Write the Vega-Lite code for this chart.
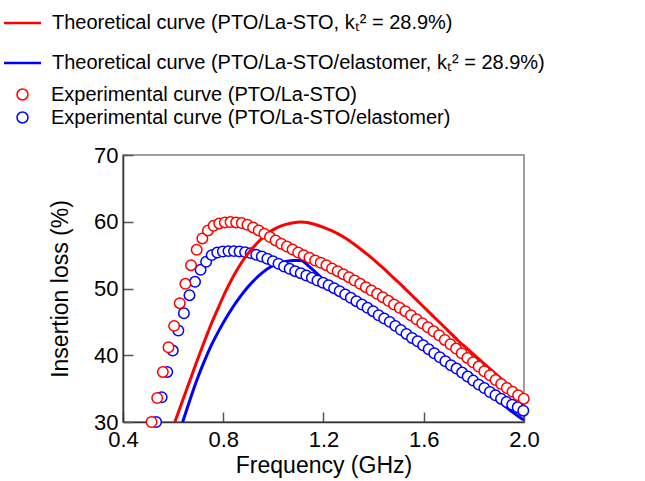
{
 "$schema": "https://vega.github.io/schema/vega-lite/v6.json",
 "width": 401,
 "height": 267,
 "autosize": {"type": "none"},
 "padding": {"left": 123, "top": 155, "right": 121, "bottom": 59},
 "background": "white",
 "config": {
  "font": "Liberation Sans",
  "view": {"stroke": "#808080", "strokeWidth": 1.5},
  "axis": {"grid": false, "domainColor": "#333333", "domainWidth": 1.5, "tickColor": "#555555", "tickWidth": 1.5, "labelColor": "#000000", "titleColor": "#000000", "labelFont": "Liberation Sans", "titleFont": "Liberation Sans", "titleFontWeight": "normal", "labelFontSize": 22, "titleFontSize": 23},
  "legend": {"labelFont": "Liberation Sans", "labelFontSize": 20, "labelColor": "#000000", "padding": 0, "labelLimit": 0}
 },
 "data": {"values": [
    {"s":"a","f":0.607,"loss":30.0},{"s":"a","f":0.63,"loss":32.4},{"s":"a","f":0.66,"loss":35.5},{"s":"a","f":0.69,"loss":38.6},{"s":"a","f":0.72,"loss":41.6},{"s":"a","f":0.75,"loss":44.5},{"s":"a","f":0.78,"loss":47.1},{"s":"a","f":0.81,"loss":49.6},{"s":"a","f":0.84,"loss":51.8},{"s":"a","f":0.87,"loss":53.7},{"s":"a","f":0.90,"loss":55.3},{"s":"a","f":0.93,"loss":56.6},{"s":"a","f":0.96,"loss":57.7},{"s":"a","f":0.99,"loss":58.6},{"s":"a","f":1.02,"loss":59.2},{"s":"a","f":1.05,"loss":59.6},{"s":"a","f":1.08,"loss":59.85},{"s":"a","f":1.11,"loss":59.95},{"s":"a","f":1.14,"loss":59.85},{"s":"a","f":1.17,"loss":59.55},{"s":"a","f":1.20,"loss":59.15},{"s":"a","f":1.23,"loss":58.7},{"s":"a","f":1.26,"loss":58.15},{"s":"a","f":1.29,"loss":57.5},{"s":"a","f":1.32,"loss":56.7},{"s":"a","f":1.35,"loss":55.85},{"s":"a","f":1.38,"loss":54.95},{"s":"a","f":1.41,"loss":54.0},{"s":"a","f":1.44,"loss":53.0},{"s":"a","f":1.47,"loss":51.95},{"s":"a","f":1.50,"loss":50.9},{"s":"a","f":1.53,"loss":49.8},{"s":"a","f":1.56,"loss":48.7},{"s":"a","f":1.59,"loss":47.6},{"s":"a","f":1.62,"loss":46.5},{"s":"a","f":1.65,"loss":45.4},{"s":"a","f":1.68,"loss":44.3},{"s":"a","f":1.71,"loss":43.2},{"s":"a","f":1.74,"loss":42.1},{"s":"a","f":1.77,"loss":41.1},{"s":"a","f":1.80,"loss":40.1},{"s":"a","f":1.83,"loss":39.1},{"s":"a","f":1.86,"loss":38.1},{"s":"a","f":1.89,"loss":37.1},{"s":"a","f":1.92,"loss":36.1},{"s":"a","f":1.95,"loss":35.1},{"s":"a","f":1.98,"loss":34.1},{"s":"a","f":2.00,"loss":33.4},
    {"s":"b","f":0.638,"loss":30.0},{"s":"b","f":0.66,"loss":32.5},{"s":"b","f":0.69,"loss":35.8},{"s":"b","f":0.72,"loss":38.7},{"s":"b","f":0.75,"loss":41.3},{"s":"b","f":0.78,"loss":43.5},{"s":"b","f":0.81,"loss":45.5},{"s":"b","f":0.84,"loss":47.3},{"s":"b","f":0.87,"loss":48.9},{"s":"b","f":0.90,"loss":50.3},{"s":"b","f":0.93,"loss":51.5},{"s":"b","f":0.96,"loss":52.5},{"s":"b","f":0.99,"loss":53.25},{"s":"b","f":1.02,"loss":53.75},{"s":"b","f":1.05,"loss":54.05},{"s":"b","f":1.08,"loss":54.2},{"s":"b","f":1.11,"loss":54.2},{"s":"b","f":1.14,"loss":53.4},{"s":"b","f":1.17,"loss":52.4},{"s":"b","f":1.20,"loss":51.3},{"s":"b","f":1.23,"loss":50.5},{"s":"b","f":1.26,"loss":49.9},{"s":"b","f":1.29,"loss":49.3},{"s":"b","f":1.32,"loss":48.6},{"s":"b","f":1.35,"loss":47.9},{"s":"b","f":1.38,"loss":47.2},{"s":"b","f":1.41,"loss":46.5},{"s":"b","f":1.44,"loss":45.7},{"s":"b","f":1.47,"loss":44.9},{"s":"b","f":1.50,"loss":44.1},{"s":"b","f":1.53,"loss":43.3},{"s":"b","f":1.56,"loss":42.5},{"s":"b","f":1.59,"loss":41.7},{"s":"b","f":1.62,"loss":40.9},{"s":"b","f":1.65,"loss":40.1},{"s":"b","f":1.68,"loss":39.3},{"s":"b","f":1.71,"loss":38.5},{"s":"b","f":1.74,"loss":37.6},{"s":"b","f":1.77,"loss":36.8},{"s":"b","f":1.80,"loss":36.0},{"s":"b","f":1.83,"loss":35.1},{"s":"b","f":1.86,"loss":34.3},{"s":"b","f":1.89,"loss":33.4},{"s":"b","f":1.92,"loss":32.5},{"s":"b","f":1.95,"loss":31.6},{"s":"b","f":1.98,"loss":30.8},{"s":"b","f":2.00,"loss":30.3},
    {"s":"c","f":0.514,"loss":30.0},{"s":"c","f":0.5365,"loss":33.6},{"s":"c","f":0.559,"loss":37.5},{"s":"c","f":0.5815,"loss":41.2},{"s":"c","f":0.604,"loss":44.4},{"s":"c","f":0.6265,"loss":47.8},{"s":"c","f":0.649,"loss":50.7},{"s":"c","f":0.6715,"loss":53.5},{"s":"c","f":0.694,"loss":55.8},{"s":"c","f":0.7165,"loss":57.5},{"s":"c","f":0.739,"loss":58.7},{"s":"c","f":0.7615,"loss":59.4},{"s":"c","f":0.784,"loss":59.75},{"s":"c","f":0.8065,"loss":59.9},{"s":"c","f":0.829,"loss":59.95},{"s":"c","f":0.8515,"loss":59.9},{"s":"c","f":0.874,"loss":59.8},{"s":"c","f":0.8965,"loss":59.55},{"s":"c","f":0.919,"loss":59.15},{"s":"c","f":0.9415,"loss":58.7},{"s":"c","f":0.964,"loss":58.2},{"s":"c","f":0.9865,"loss":57.7},{"s":"c","f":1.009,"loss":57.2},{"s":"c","f":1.0315,"loss":56.7},{"s":"c","f":1.054,"loss":56.3},{"s":"c","f":1.0765,"loss":55.85},{"s":"c","f":1.099,"loss":55.4},{"s":"c","f":1.1215,"loss":55.0},{"s":"c","f":1.144,"loss":54.6},{"s":"c","f":1.1665,"loss":54.2},{"s":"c","f":1.189,"loss":53.85},{"s":"c","f":1.2115,"loss":53.5},{"s":"c","f":1.234,"loss":53.0},{"s":"c","f":1.2565,"loss":52.6},{"s":"c","f":1.279,"loss":52.15},{"s":"c","f":1.3015,"loss":51.7},{"s":"c","f":1.324,"loss":51.2},{"s":"c","f":1.3465,"loss":50.7},{"s":"c","f":1.369,"loss":50.2},{"s":"c","f":1.3915,"loss":49.7},{"s":"c","f":1.414,"loss":49.2},{"s":"c","f":1.4365,"loss":48.7},{"s":"c","f":1.459,"loss":48.15},{"s":"c","f":1.4815,"loss":47.6},{"s":"c","f":1.504,"loss":47.1},{"s":"c","f":1.5265,"loss":46.6},{"s":"c","f":1.549,"loss":46.0},{"s":"c","f":1.5715,"loss":45.4},{"s":"c","f":1.594,"loss":44.8},{"s":"c","f":1.6165,"loss":44.2},{"s":"c","f":1.639,"loss":43.6},{"s":"c","f":1.6615,"loss":43.0},{"s":"c","f":1.684,"loss":42.3},{"s":"c","f":1.7065,"loss":41.65},{"s":"c","f":1.729,"loss":41.0},{"s":"c","f":1.7515,"loss":40.3},{"s":"c","f":1.774,"loss":39.6},{"s":"c","f":1.7965,"loss":38.95},{"s":"c","f":1.819,"loss":38.3},{"s":"c","f":1.8415,"loss":37.6},{"s":"c","f":1.864,"loss":37.0},{"s":"c","f":1.8865,"loss":36.3},{"s":"c","f":1.909,"loss":35.7},{"s":"c","f":1.9315,"loss":35.1},{"s":"c","f":1.954,"loss":34.55},{"s":"c","f":1.9765,"loss":34.0},{"s":"c","f":1.999,"loss":33.5},
    {"s":"d","f":0.532,"loss":30.0},{"s":"d","f":0.5542,"loss":33.7},{"s":"d","f":0.5764,"loss":37.5},{"s":"d","f":0.5986,"loss":40.7},{"s":"d","f":0.6208,"loss":43.7},{"s":"d","f":0.643,"loss":46.3},{"s":"d","f":0.6652,"loss":49.0},{"s":"d","f":0.6874,"loss":51.0},{"s":"d","f":0.7096,"loss":52.8},{"s":"d","f":0.7318,"loss":54.0},{"s":"d","f":0.754,"loss":55.0},{"s":"d","f":0.7762,"loss":55.4},{"s":"d","f":0.7984,"loss":55.55},{"s":"d","f":0.8206,"loss":55.6},{"s":"d","f":0.8428,"loss":55.6},{"s":"d","f":0.865,"loss":55.55},{"s":"d","f":0.8872,"loss":55.45},{"s":"d","f":0.9094,"loss":55.3},{"s":"d","f":0.9316,"loss":55.05},{"s":"d","f":0.9538,"loss":54.8},{"s":"d","f":0.976,"loss":54.45},{"s":"d","f":0.9982,"loss":54.1},{"s":"d","f":1.0204,"loss":53.7},{"s":"d","f":1.0426,"loss":53.3},{"s":"d","f":1.0648,"loss":52.95},{"s":"d","f":1.087,"loss":52.6},{"s":"d","f":1.1092,"loss":52.3},{"s":"d","f":1.1314,"loss":51.95},{"s":"d","f":1.1536,"loss":51.6},{"s":"d","f":1.1758,"loss":51.2},{"s":"d","f":1.198,"loss":50.85},{"s":"d","f":1.2202,"loss":50.5},{"s":"d","f":1.2424,"loss":50.05},{"s":"d","f":1.2646,"loss":49.6},{"s":"d","f":1.2868,"loss":49.1},{"s":"d","f":1.309,"loss":48.6},{"s":"d","f":1.3312,"loss":48.1},{"s":"d","f":1.3534,"loss":47.6},{"s":"d","f":1.3756,"loss":47.1},{"s":"d","f":1.3978,"loss":46.6},{"s":"d","f":1.42,"loss":46.0},{"s":"d","f":1.4422,"loss":45.5},{"s":"d","f":1.4644,"loss":45.0},{"s":"d","f":1.4866,"loss":44.4},{"s":"d","f":1.5088,"loss":43.8},{"s":"d","f":1.531,"loss":43.2},{"s":"d","f":1.5532,"loss":42.6},{"s":"d","f":1.5754,"loss":42.1},{"s":"d","f":1.5976,"loss":41.5},{"s":"d","f":1.6198,"loss":40.9},{"s":"d","f":1.642,"loss":40.3},{"s":"d","f":1.6642,"loss":39.7},{"s":"d","f":1.6864,"loss":39.1},{"s":"d","f":1.7086,"loss":38.5},{"s":"d","f":1.7308,"loss":38.0},{"s":"d","f":1.753,"loss":37.4},{"s":"d","f":1.7752,"loss":36.8},{"s":"d","f":1.7974,"loss":36.2},{"s":"d","f":1.8196,"loss":35.6},{"s":"d","f":1.8418,"loss":35.1},{"s":"d","f":1.864,"loss":34.5},{"s":"d","f":1.8862,"loss":34.0},{"s":"d","f":1.9084,"loss":33.5},{"s":"d","f":1.9306,"loss":33.0},{"s":"d","f":1.9528,"loss":32.6},{"s":"d","f":1.975,"loss":32.2},{"s":"d","f":1.9972,"loss":31.7}
 ]},
 "encoding": {
  "x": {"field": "f", "type": "quantitative", "scale": {"domain": [0.4, 2.0], "nice": false, "zero": false},
        "axis": {"title": "Frequency (GHz)", "values": [0.4, 0.8, 1.2, 1.6, 2.0], "format": ".1f", "tickSize": -10, "labelPadding": 17, "titlePadding": 4, "labelFlush": false}},
  "y": {"field": "loss", "type": "quantitative", "scale": {"domain": [30, 70], "nice": false, "zero": false},
        "axis": {"title": "Insertion loss (%)", "values": [30, 40, 50, 60, 70], "tickSize": -10, "labelPadding": 15, "titlePadding": 21, "labelFlush": false}}
 },
 "layer": [
  {
   "transform": [{"filter": "datum.s == 'b'"}],
   "mark": {"type": "line", "strokeWidth": 3, "interpolate": "monotone", "clip": true},
   "encoding": {
    "color": {"field": "s", "type": "nominal", "scale": {"domain": ["a", "b"], "range": ["#ff0000", "#0000ff"]},
              "legend": {"title": null, "orient": "none", "legendX": -120.5, "legendY": -152, "direction": "vertical", "symbolType": "stroke", "symbolSize": 1369, "symbolStrokeWidth": 2.5, "labelOffset": 9.5, "rowPadding": 10,
                         "labelExpr": "datum.value == 'a' ? 'Theoretical curve (PTO/La-STO, kₜ² = 28.9%)' : 'Theoretical curve (PTO/La-STO/elastomer, kₜ² = 28.9%)'"}}
   }
  },
  {
   "transform": [{"filter": "datum.s == 'd'"}],
   "mark": {"type": "point", "shape": "circle", "filled": true, "fill": "white", "size": 110, "strokeWidth": 1.5, "opacity": 1, "clip": false},
   "encoding": {
    "stroke": {"field": "s", "type": "nominal", "scale": {"domain": ["c", "d"], "range": ["#ff0000", "#0000ff"]},
              "legend": {"title": null, "orient": "none", "legendX": -110.5, "legendY": -70.5, "direction": "vertical", "symbolType": "circle", "symbolSize": 121, "symbolStrokeWidth": 1.5, "symbolFillColor": "white", "labelOffset": 18.5, "rowPadding": 3,
                         "labelExpr": "datum.value == 'c' ? 'Experimental curve (PTO/La-STO)' : 'Experimental curve (PTO/La-STO/elastomer)'"}}
   }
  },
  {
   "transform": [{"filter": "datum.s == 'a'"}],
   "mark": {"type": "line", "strokeWidth": 3, "interpolate": "monotone", "clip": true},
   "encoding": {
    "color": {"field": "s", "type": "nominal", "scale": {"domain": ["a", "b"], "range": ["#ff0000", "#0000ff"]},
              "legend": {"title": null, "orient": "none", "legendX": -120.5, "legendY": -152, "direction": "vertical", "symbolType": "stroke", "symbolSize": 1369, "symbolStrokeWidth": 2.5, "labelOffset": 9.5, "rowPadding": 10,
                         "labelExpr": "datum.value == 'a' ? 'Theoretical curve (PTO/La-STO, kₜ² = 28.9%)' : 'Theoretical curve (PTO/La-STO/elastomer, kₜ² = 28.9%)'"}}
   }
  },
  {
   "transform": [{"filter": "datum.s == 'c'"}],
   "mark": {"type": "point", "shape": "circle", "filled": true, "fill": "white", "size": 110, "strokeWidth": 1.5, "opacity": 1, "clip": false},
   "encoding": {
    "stroke": {"field": "s", "type": "nominal", "scale": {"domain": ["c", "d"], "range": ["#ff0000", "#0000ff"]},
              "legend": {"title": null, "orient": "none", "legendX": -110.5, "legendY": -70.5, "direction": "vertical", "symbolType": "circle", "symbolSize": 121, "symbolStrokeWidth": 1.5, "symbolFillColor": "white", "labelOffset": 18.5, "rowPadding": 3,
                         "labelExpr": "datum.value == 'c' ? 'Experimental curve (PTO/La-STO)' : 'Experimental curve (PTO/La-STO/elastomer)'"}}
   }
  }
 ]
}
